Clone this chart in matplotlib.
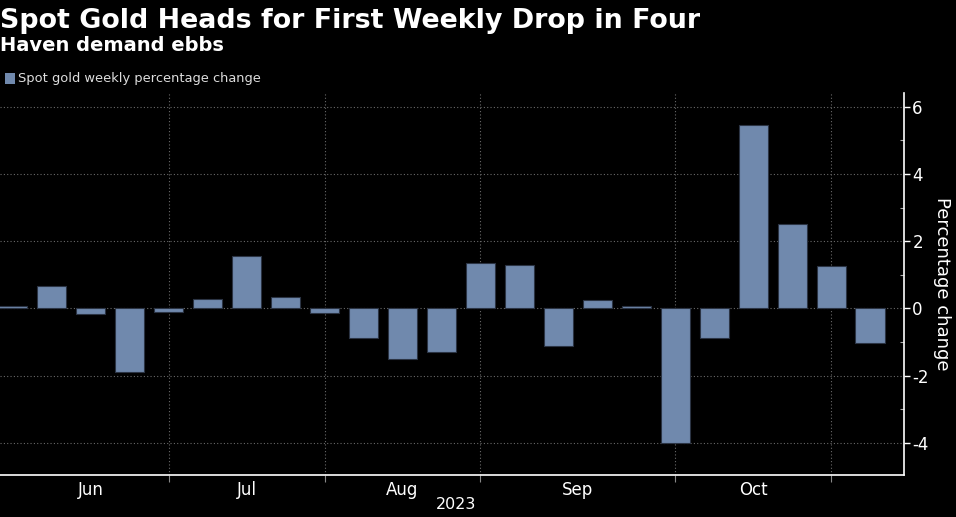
import matplotlib
matplotlib.use("Agg")
import matplotlib.pyplot as plt
from matplotlib.ticker import FixedLocator

plt.rcParams["axes.unicode_minus"] = False

# weekly spot gold % change, 23 weeks (Jun..end Oct 2023)
changes = [0.08, 0.67, -0.17, -1.88, -0.11, 0.29, 1.55, 0.35, -0.13, -0.87,
           -1.51, -1.30, 1.34, 1.30, -1.11, 0.24, 0.06, -3.99, -0.87, 5.46,
           2.50, 1.25, -1.03]
month_labels = ["Jun", "Jul", "Aug", "Sep", "Oct"]
month_centers = [2, 6, 10, 14.5, 19]
month_bounds = [4, 8, 12, 17, 21]
y_ticks = [-4, -2, 0, 2, 4, 6]

bg = "black"
bar_color = "#7089ad"
grid_color = "#6a6a6a"

fig = plt.figure(figsize=(9.56, 5.17), dpi=100, facecolor=bg)
ax = fig.add_axes([0.0, 0.081, 0.9456, 0.739], facecolor=bg)

x = list(range(len(changes)))
ax.bar(x, changes, width=0.75, color=bar_color, edgecolor="#2b3444", linewidth=0.8, zorder=3)

ax.set_xlim(-0.33, 22.87)
ax.set_ylim(-4.95, 6.4)

# grid
for yv in y_ticks:
    ax.axhline(yv, color=grid_color, lw=0.8, ls=(0, (1, 2)), zorder=1)
for xv in month_bounds:
    ax.axvline(xv, color=grid_color, lw=0.8, ls=(0, (1, 2)), zorder=1)

# spines
for s in ["top", "left"]:
    ax.spines[s].set_visible(False)
ax.spines["right"].set_color("white")
ax.spines["bottom"].set_color("white")
ax.spines["right"].set_linewidth(1.2)
ax.spines["bottom"].set_linewidth(1.2)

# y axis on the right
ax.yaxis.tick_right()
ax.yaxis.set_label_position("right")
ax.set_yticks(y_ticks)
ax.yaxis.set_minor_locator(FixedLocator([-3, -1, 1, 3, 5]))
ax.tick_params(axis="y", which="major", colors="white", labelsize=12, length=4, width=1, pad=2)
ax.tick_params(axis="y", which="minor", colors="#aaaaaa", length=3, width=0.8, direction="in")
ax.set_ylabel("Percentage change", color="white", fontsize=13, rotation=270, labelpad=16)

# x axis: month ticks at boundaries, labels centered
ax.set_xticks(month_bounds)
ax.set_xticklabels([])
ax.tick_params(axis="x", which="major", colors="#888888", length=5, width=0.8)
ax.set_xticks(month_centers, minor=True)
ax.set_xticklabels(month_labels, minor=True)
ax.tick_params(axis="x", which="minor", length=0, colors="white", labelsize=12, pad=4)
ax.text(0.505, -0.058, "2023", transform=ax.transAxes, ha="center", va="top", color="white", fontsize=11.5)

# titles
fig.text(0.0, 0.985, "Spot Gold Heads for First Weekly Drop in Four", ha="left", va="top",
         color="white", fontsize=19.4, fontweight="bold")
fig.text(0.0, 0.93, "Haven demand ebbs", ha="left", va="top",
         color="white", fontsize=14, fontweight="bold")

# legend
fig.patches.append(plt.Rectangle((0.005, 0.838), 0.011, 0.02, transform=fig.transFigure,
                                 facecolor=bar_color, edgecolor="none"))
fig.text(0.019, 0.848, "Spot gold weekly percentage change", ha="left", va="center",
         color="#dddddd", fontsize=9.4)

plt.savefig("out.png", dpi=100, facecolor=bg)
